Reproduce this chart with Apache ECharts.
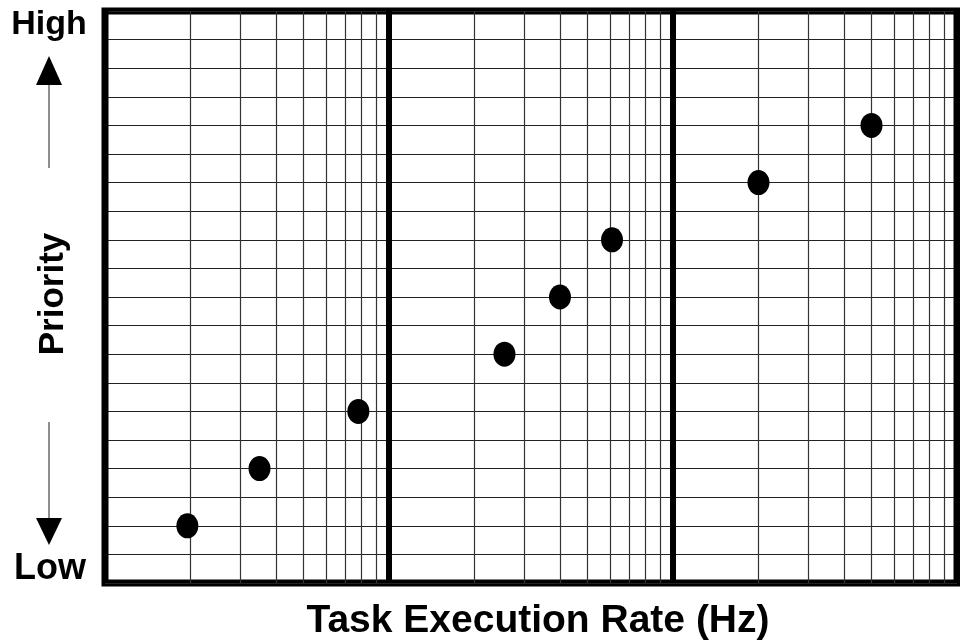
<!DOCTYPE html>
<html>
<head>
<meta charset="utf-8">
<script src="https://cdn.jsdelivr.net/npm/echarts@6/dist/echarts.min.js"></script>
<style>
  html, body { margin: 0; padding: 0; background: #fff; }
  #chart { width: 960px; height: 644px; }
</style>
</head>
<body>
<div id="chart"></div>
<script>
// task rate (Hz) vs priority level
const rates = [1.95, 3.5, 7.8, 25.5, 40, 61, 200, 500]
const priorities = [2, 4, 6, 8, 10, 12, 14, 16]

// minor log grid lines inside each decade
const minorLines = [2, 3, 4, 5, 6, 7, 8, 9, 20, 30, 40, 50, 60, 70, 80, 90, 200, 300, 400, 500, 600, 700, 800, 900]

const xTitle = 'Task Execution Rate (Hz)'
const yTitle = 'Priority'
const yTop = 'High'
const yBottom = 'Low'

const font = '"Liberation Sans", Arial, Helvetica, sans-serif'

const chart = echarts.init(document.getElementById('chart'))

chart.setOption({
  animation: false,
  grid: {
    left: 105,
    right: 3,
    top: 11,
    bottom: 61,
    show: true,
    borderColor: '#000',
    borderWidth: 7,
    containLabel: false
  },
  xAxis: {
    type: 'log',
    logBase: 10,
    min: 1,
    max: 1000,
    axisLine: { show: false },
    axisTick: { show: false },
    axisLabel: { show: false },
    splitLine: { show: true, lineStyle: { color: '#000', width: 6 } }
  },
  yAxis: {
    type: 'value',
    min: 0,
    max: 20,
    interval: 1,
    axisLine: { show: false },
    axisTick: { show: false },
    axisLabel: { show: false },
    splitLine: { show: true, lineStyle: { color: '#222', width: 1.2 } }
  },
  series: [
    {
      type: 'scatter',
      data: rates.map((r, i) => [r, priorities[i]]),
      symbol: 'circle',
      symbolSize: [22, 25],
      itemStyle: { color: '#000', opacity: 1 },
      emphasis: { disabled: true },
      z: 5,
      markLine: {
        silent: true,
        symbol: ['none', 'none'],
        label: { show: false },
        lineStyle: { color: '#333', width: 1.2, type: 'solid', opacity: 1 },
        data: minorLines.map((v) => ({ xAxis: v }))
      }
    }
  ],
  graphic: [
    {
      type: 'text',
      style: {
        text: xTitle,
        x: 538,
        y: 621,
        align: 'center',
        verticalAlign: 'middle',
        font: 'bold 39px ' + font,
        fill: '#000'
      }
    },
    {
      type: 'text',
      style: {
        text: yTop,
        x: 49,
        y: 25,
        align: 'center',
        verticalAlign: 'middle',
        font: 'bold 34px ' + font,
        fill: '#000'
      }
    },
    {
      type: 'text',
      style: {
        text: yBottom,
        x: 50,
        y: 569,
        align: 'center',
        verticalAlign: 'middle',
        font: 'bold 36px ' + font,
        fill: '#000'
      }
    },
    {
      type: 'text',
      x: 53,
      y: 294,
      rotation: Math.PI / 2,
      style: {
        text: yTitle,
        x: 0,
        y: 0,
        align: 'center',
        verticalAlign: 'middle',
        font: 'bold 35px ' + font,
        fill: '#000'
      }
    },
    // up arrow
    {
      type: 'line',
      shape: { x1: 49, y1: 84, x2: 49, y2: 168 },
      style: { stroke: '#444', lineWidth: 1.2 }
    },
    {
      type: 'polygon',
      shape: { points: [[49, 56], [36, 85], [62, 85]] },
      style: { fill: '#000' }
    },
    // down arrow
    {
      type: 'line',
      shape: { x1: 49, y1: 422, x2: 49, y2: 519 },
      style: { stroke: '#444', lineWidth: 1.2 }
    },
    {
      type: 'polygon',
      shape: { points: [[36, 518], [62, 518], [49, 545]] },
      style: { fill: '#000' }
    }
  ]
})
</script>
</body>
</html>
